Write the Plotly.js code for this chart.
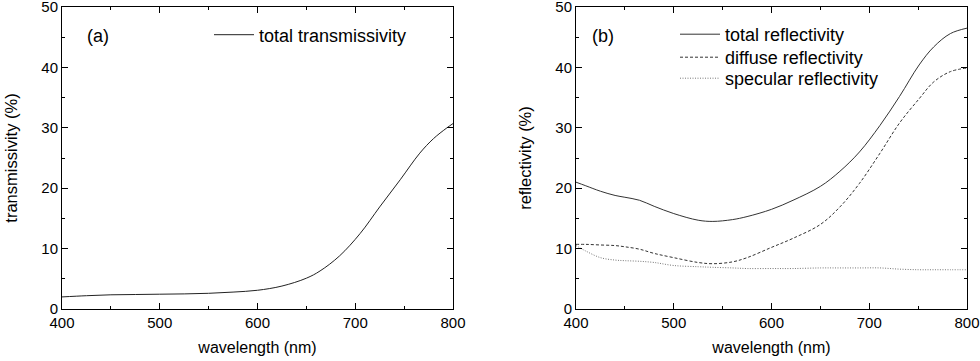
<!DOCTYPE html>
<html><head><meta charset="utf-8">
<script src="https://cdn.plot.ly/plotly-3.0.1.min.js"></script>
<style>html,body{margin:0;padding:0;background:#fff}#c{width:980px;height:361px}</style>
</head><body><div id="c"></div>
<script>
const wlT = [400,425,450,475,500,525,550,575,600,625,650,664,684,705,725,746,766,780,793,800];
const transT = [2.0,2.2,2.35,2.4,2.45,2.5,2.6,2.8,3.1,3.8,5.1,6.3,8.8,12.5,16.9,21.4,25.8,28.2,29.9,30.7];

const wlR = [400,410,425,440,450,465,480,500,525,540,560,575,600,622,650,670,690,711,731,751,766,783,800];
const totalR = [21.0,20.4,19.5,18.8,18.5,18.0,17.0,15.8,14.7,14.5,14.8,15.3,16.5,18.0,20.3,22.8,26.0,30.4,35.2,40.4,43.4,45.6,46.5];
const diffuseR = [10.7,10.7,10.6,10.5,10.3,9.9,9.2,8.5,7.7,7.5,7.8,8.5,10.2,11.7,14.0,16.9,20.8,25.8,30.8,34.8,37.6,39.3,39.9];
const specularR = [10.5,9.6,8.5,8.1,8.0,7.9,7.7,7.2,7.0,6.9,6.8,6.7,6.7,6.7,6.8,6.8,6.8,6.8,6.6,6.5,6.5,6.5,6.5];

const font = {family:'"Liberation Sans", Arial, sans-serif', color:'#000'};
const lineW = 1;

const traces = [
  {x:wlT, y:transT, type:'scatter', mode:'lines', name:'total transmissivity',
   line:{color:'#222', width:lineW, shape:'spline', smoothing:1}, xaxis:'x', yaxis:'y', legend:'legend'},
  {x:wlR, y:totalR, type:'scatter', mode:'lines', name:'total reflectivity',
   line:{color:'#333', width:lineW, shape:'spline', smoothing:1}, xaxis:'x2', yaxis:'y2', legend:'legend2'},
  {x:wlR, y:diffuseR, type:'scatter', mode:'lines', name:'diffuse reflectivity',
   line:{color:'#333', width:lineW, dash:'3px,2px', shape:'spline', smoothing:1}, xaxis:'x2', yaxis:'y2', legend:'legend3'},
  {x:wlR, y:specularR, type:'scatter', mode:'lines', name:'specular reflectivity',
   line:{color:'#777', width:lineW, dash:'1px,1.5px', shape:'spline', smoothing:1}, xaxis:'x2', yaxis:'y2', legend:'legend4'}
];

function xax(domain, anchor){
  return {domain:domain, anchor:anchor, range:[400,800], dtick:100, tick0:400,
    ticks:'inside', ticklen:6, tickwidth:1, tickcolor:'#000', ticklabeloverflow:'allow',
    minor:{ticks:'inside', dtick:50, ticklen:3, tickcolor:'#000'},
    showline:true, linecolor:'#000', linewidth:1, mirror:'ticks', showgrid:false, zeroline:false,
    tickfont:Object.assign({size:15}, font),
    title:{text:'wavelength (nm)', font:Object.assign({size:16}, font), standoff:11}};
}
function yax(domain, anchor, title){
  return {domain:domain, anchor:anchor, range:[0,50], dtick:10, tick0:0,
    ticks:'inside', ticklen:6, tickwidth:1, tickcolor:'#000', ticklabeloverflow:'allow',
    minor:{ticks:'inside', dtick:5, ticklen:3, tickcolor:'#000'},
    showline:true, linecolor:'#000', linewidth:1, mirror:'ticks', showgrid:false, zeroline:false,
    tickfont:Object.assign({size:15}, font),
    title:{text:title, font:Object.assign({size:16.5}, font), standoff:19}};
}

function leg(xpx, ypx){
  return {x:xpx/980, y:(361-ypx)/361, xanchor:'left', yanchor:'top', bgcolor:'rgba(0,0,0,0)',
    font:Object.assign({size:18}, font), tracegroupgap:0, itemwidth:40};
}

const yd = [52/361, 354/361];
const layout = {
  width:980, height:361, margin:{l:0,r:0,t:0,b:0},
  paper_bgcolor:'#fff', plot_bgcolor:'#fff', font:font,
  xaxis: xax([62/980, 453/980], 'y'),
  yaxis: yax(yd, 'x', 'transmissivity (%)'),
  xaxis2: xax([576/980, 967/980], 'y2'),
  yaxis2: yax(yd, 'x2', 'reflectivity (%)'),
  showlegend:true,
  legend: leg(209, 16.5),
  legend2: leg(675, 16),
  legend3: leg(675, 39),
  legend4: leg(675, 60),
  annotations:[
    {text:'(a)', xref:'paper', yref:'paper', x:98/980, y:(361-36)/361, xanchor:'center', yanchor:'middle', showarrow:false, font:Object.assign({size:18}, font)},
    {text:'(b)', xref:'paper', yref:'paper', x:603/980, y:(361-36)/361, xanchor:'center', yanchor:'middle', showarrow:false, font:Object.assign({size:18}, font)}
  ]
};
Plotly.newPlot('c', traces, layout, {staticPlot:true, displayModeBar:false});
</script></body></html>
